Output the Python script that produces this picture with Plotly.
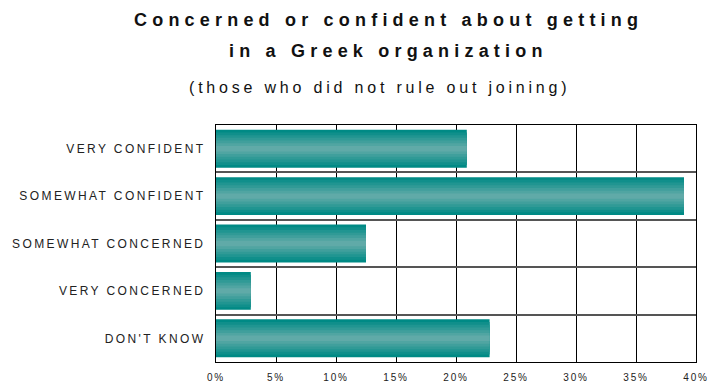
import plotly.graph_objects as go

# Survey answers, top to bottom
categories = ["VERY CONFIDENT", "SOMEWHAT CONFIDENT", "SOMEWHAT CONCERNED",
              "VERY CONCERNED", "DON'T KNOW"]
shares = [20.9, 39.0, 12.5, 2.9, 22.8]  # percent of respondents
x_ticks = [0, 5, 10, 15, 20, 25, 30, 35, 40]
x_tick_labels = [f"{v}%" for v in x_ticks]


def spaced(text, px):
    return f'<span style="letter-spacing:{px}px">{text}</span>'


def mix(c1, c2, t):
    a = [int(c1[i:i + 2], 16) for i in (1, 3, 5)]
    b = [int(c2[i:i + 2], 16) for i in (1, 3, 5)]
    return "#" + "".join(f"{round(p + (q - p) * t):02x}" for p, q in zip(a, b))


fig = go.Figure()

# Banded teal shading: stacked overlays, narrowing toward a lighter centre
edge, centre = "#008a85", "#60aaa8"
n_bands = 7
for k in range(n_bands):
    w = 0.8 * (1 - k / n_bands)
    fig.add_trace(go.Bar(
        y=categories, x=shares, orientation="h",
        width=w, marker=dict(color=mix(edge, centre, k / (n_bands - 1)), line_width=0),
        hoverinfo="skip" if k else "x+y", showlegend=False,
    ))

fig.update_layout(
    width=709, height=384,
    barmode="overlay",
    plot_bgcolor="white", paper_bgcolor="white",
    margin=dict(l=216, r=13, t=125, b=22),
    font=dict(family="Liberation Sans, Arial, sans-serif", color="#222"),
    xaxis=dict(
        range=[0, 40], tickvals=x_ticks,
        ticktext=[spaced(t, 1.8) for t in x_tick_labels],
        tickfont=dict(size=10, color="#222"),
        showgrid=True, gridcolor="black", gridwidth=1.3,
        showline=True, linecolor="black", linewidth=1.3, mirror=True,
        ticks="", ticklabelstandoff=6, zeroline=False, fixedrange=True,
        automargin=False,
    ),
    yaxis=dict(
        categoryorder="array", categoryarray=categories, autorange="reversed",
        tickvals=categories, ticktext=[spaced(c, 2.4) for c in categories],
        tickfont=dict(size=12, color="#222"),
        tickson="boundaries", ticks="", ticklabelstandoff=7,
        showgrid=True, gridcolor="#555", gridwidth=2,
        showline=True, linecolor="black", linewidth=1.3, mirror=True,
        fixedrange=True, automargin=False,
    ),
)

title_lines = [
    ("<b>Concerned or confident about getting</b>", 18, 5.2, 388, 1.443),
    ("<b>in a Greek organization</b>", 18, 5.2, 388, 1.312),
    ("(those who did not rule out joining)", 16, 3.8, 379, 1.160),
]
for text, size, ls, xpix, ypos in title_lines:
    fig.add_annotation(
        text=spaced(text, ls), xref="paper", yref="paper",
        x=(xpix - 216) / 480, y=ypos, xanchor="center", yanchor="middle",
        showarrow=False, font=dict(size=size, color="#111"),
    )

fig.write_html("out.html")
